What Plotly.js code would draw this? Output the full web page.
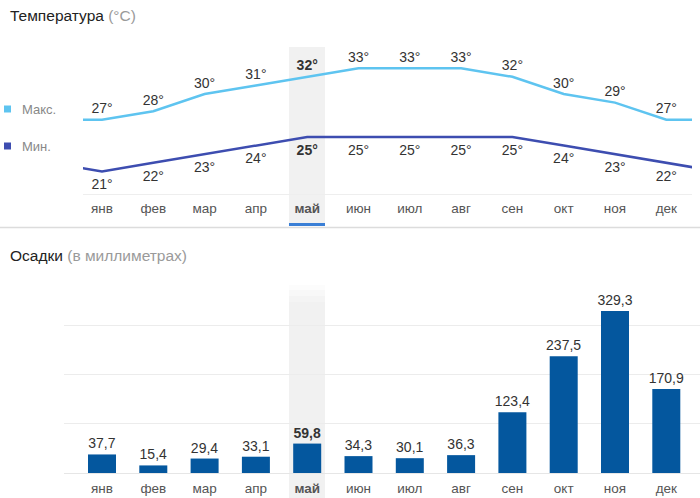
<!DOCTYPE html>
<html>
<head>
<meta charset="utf-8">
<script src="https://cdn.plot.ly/plotly-3.0.1.min.js"></script>
<style>html,body{margin:0;padding:0;background:#fff;}#chart{width:700px;height:498px;}</style>
</head>
<body>
<div id="chart"></div>
<script>
const months = ['янв','фев','мар','апр','май','июн','июл','авг','сен','окт','ноя','дек'];
const tMax = [27,28,30,31,32,33,33,33,32,30,29,27];
const tMin = [21,22,23,24,25,25,25,25,25,24,23,22];
const rain = [37.7,15.4,29.4,33.1,59.8,34.3,30.1,36.3,123.4,237.5,329.3,170.9];
const highlightIdx = 4;
const titleTemp = 'Температура';
const unitTemp = '(°C)';
const titleRain = 'Осадки';
const unitRain = '(в миллиметрах)';
const legendMax = 'Макс.';
const legendMin = 'Мин.';

const W = 700, H = 498;
const FONT = 'Arial, "Liberation Sans", sans-serif';
const cMax = '#5ec4f0', cMin = '#3d4db0', cBar = '#04579e';
const py = p => 1 - p / H; // pixel y -> paper

const idx = months.map((m, i) => i);
const tickText = months.map((m, i) => i === highlightIdx ? '<b>' + m + '</b>' : m);
const fmtT = (v, i) => i === highlightIdx ? '<b>' + v + '°</b>' : v + '°';

// wrap-around: previous December before January, next January after December
const xWrap = [-1].concat(idx, [12]);
const maxWrap = [tMax[11]].concat(tMax, [tMax[0]]);
const minWrap = [tMin[11]].concat(tMin, [tMin[0]]);

const traces = [
  {x: xWrap, y: maxWrap, mode: 'lines', line: {color: cMax, width: 2.5}, xaxis: 'x', yaxis: 'y', hoverinfo: 'skip'},
  {x: xWrap, y: minWrap, mode: 'lines', line: {color: cMin, width: 2.5}, xaxis: 'x', yaxis: 'y', hoverinfo: 'skip'},
  {x: idx, y: tMax, mode: 'markers+text', marker: {size: 3, color: 'rgba(0,0,0,0)'}, text: tMax.map(fmtT), textposition: 'top center',
   textfont: {family: FONT, size: 14, color: '#333'}, xaxis: 'x', yaxis: 'y', cliponaxis: false},
  {x: idx, y: tMin, mode: 'markers+text', marker: {size: 10, color: 'rgba(0,0,0,0)'}, text: tMin.map(fmtT), textposition: 'bottom center',
   textfont: {family: FONT, size: 14, color: '#333'}, xaxis: 'x', yaxis: 'y', cliponaxis: false},
  {x: idx, y: rain, type: 'bar', marker: {color: cBar}, width: 0.546,
   text: rain.map((v, i) => { const s = v.toFixed(1).replace('.', ','); return i === highlightIdx ? '<b>' + s + '</b>' : s; }),
   textposition: 'outside', constraintext: 'none', textfont: {family: FONT, size: 14, color: '#333'}, cliponaxis: false,
   xaxis: 'x2', yaxis: 'y2'}
];

// highlight column and decorations
const hx0 = 3.645, hx1 = 4.347;
const shapes = [
  {type: 'rect', xref: 'x', yref: 'paper', x0: hx0, x1: hx1, y0: py(223), y1: py(47), fillcolor: '#f1f1f1', line: {width: 0}, layer: 'below'},
  {type: 'rect', xref: 'x', yref: 'paper', x0: hx0, x1: hx1, y0: py(226), y1: py(223), fillcolor: '#3a7fd6', line: {width: 0}},
  {type: 'line', xref: 'paper', yref: 'paper', x0: 0, x1: 1, y0: py(227.5), y1: py(227.5), line: {color: '#dcdcdc', width: 1.5}},
  {type: 'rect', xref: 'x2', yref: 'paper', x0: hx0, x1: hx1, y0: 0, y1: py(302), fillcolor: '#f1f1f1', line: {width: 0}, layer: 'below'},
  {type: 'rect', xref: 'x2', yref: 'paper', x0: hx0, x1: hx1, y0: py(302), y1: py(296), fillcolor: '#f4f4f4', line: {width: 0}, layer: 'below'},
  {type: 'rect', xref: 'x2', yref: 'paper', x0: hx0, x1: hx1, y0: py(296), y1: py(290), fillcolor: '#f8f8f8', line: {width: 0}, layer: 'below'},
  {type: 'rect', xref: 'x2', yref: 'paper', x0: hx0, x1: hx1, y0: py(290), y1: py(285), fillcolor: '#fcfcfc', line: {width: 0}, layer: 'below'},
  // legend squares
  {type: 'rect', xref: 'paper', yref: 'paper', x0: 4 / W, x1: 11 / W, y0: py(112.5), y1: py(105.5), fillcolor: cMax, line: {width: 0}},
  {type: 'rect', xref: 'paper', yref: 'paper', x0: 4 / W, x1: 11 / W, y0: py(149.5), y1: py(142.5), fillcolor: cMin, line: {width: 0}}
];

const annotations = [
  {xref: 'paper', yref: 'paper', x: 8 / W, y: py(15), xanchor: 'left', yanchor: 'middle', showarrow: false,
   text: titleTemp + ' <span style="color:#9a9a9a">' + unitTemp + '</span>', font: {family: FONT, size: 15.5, color: '#222'}},
  {xref: 'paper', yref: 'paper', x: 8 / W, y: py(255), xanchor: 'left', yanchor: 'middle', showarrow: false,
   text: titleRain + ' <span style="color:#9a9a9a">' + unitRain + '</span>', font: {family: FONT, size: 15.5, color: '#222'}},
  {xref: 'paper', yref: 'paper', x: 20 / W, y: py(109), xanchor: 'left', yanchor: 'middle', showarrow: false,
   text: legendMax, font: {family: FONT, size: 13, color: '#888'}},
  {xref: 'paper', yref: 'paper', x: 20 / W, y: py(146), xanchor: 'left', yanchor: 'middle', showarrow: false,
   text: legendMin, font: {family: FONT, size: 13, color: '#888'}}
];

const layout = {
  width: W, height: H,
  margin: {l: 0, r: 0, t: 0, b: 0},
  paper_bgcolor: '#fff', plot_bgcolor: 'rgba(0,0,0,0)',
  showlegend: false,
  font: {family: FONT},
  xaxis: {domain: [83 / W, 692 / W], range: [(83 - 102) / 51.3, (692 - 102) / 51.3], anchor: 'y',
          tickvals: idx, ticktext: tickText, ticks: '', showgrid: false, zeroline: false,
          showline: true, linecolor: '#eeeeee', linewidth: 1, ticklabelstandoff: 2,
          tickfont: {family: FONT, size: 13.5, color: '#555'}, fixedrange: true},
  yaxis: {domain: [py(194), py(47)], range: [25 - 57 / 8.6, 25 + 90 / 8.6], anchor: 'x',
          showgrid: false, zeroline: false, showticklabels: false, showline: false, fixedrange: true},
  xaxis2: {domain: [64 / W, 1], range: [(64 - 102) / 51.3, (700 - 102) / 51.3], anchor: 'y2',
           tickvals: idx, ticktext: tickText, ticks: '', showgrid: false, zeroline: false,
           showline: false, ticklabelstandoff: 5,
           tickfont: {family: FONT, size: 13.5, color: '#555'}, fixedrange: true},
  yaxis2: {domain: [py(473), py(290)], range: [0, 183 / 0.492], anchor: 'x2',
           dtick: 100, showgrid: true, gridcolor: '#ececec', gridwidth: 1,
           zeroline: true, zerolinecolor: '#e6e6e6', zerolinewidth: 1,
           showticklabels: false, showline: false, fixedrange: true},
  shapes: shapes,
  annotations: annotations
};

Plotly.newPlot('chart', traces, layout, {displayModeBar: false, staticPlot: true});
</script>
</body>
</html>
